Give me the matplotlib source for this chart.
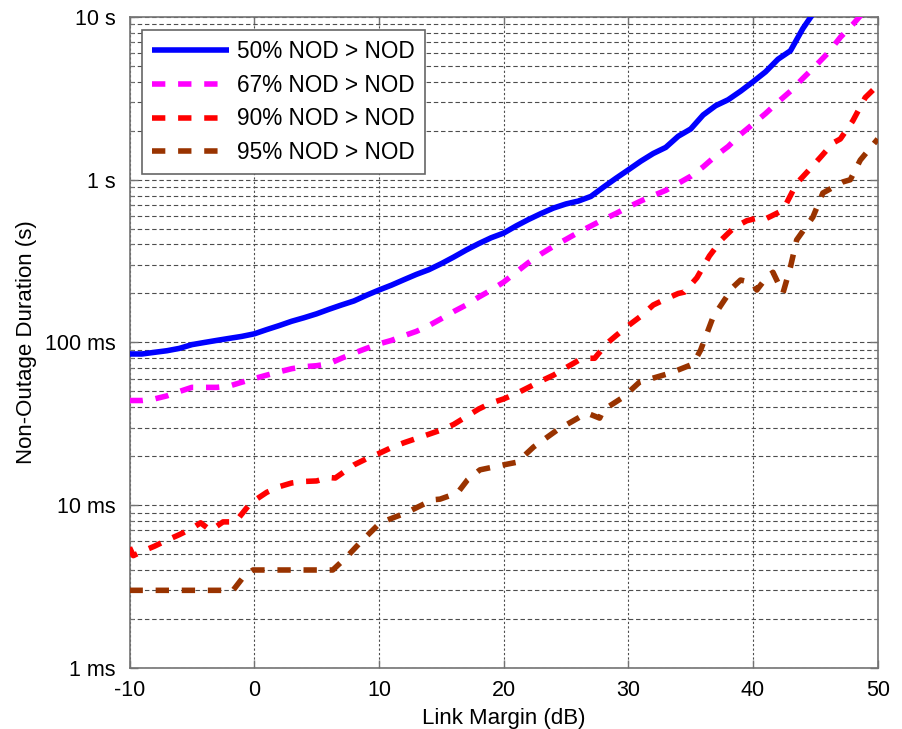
import matplotlib
matplotlib.use('Agg')
import matplotlib.pyplot as plt
import numpy as np
from matplotlib.ticker import FixedLocator, NullFormatter

plt.rcParams['font.family'] = ['Liberation Sans', 'DejaVu Sans']

# link margin (dB) and non-outage durations (s)
margin_50 = list(range(-10, 46))
nod_50 = [0.085, 0.085, 0.087, 0.089, 0.092, 0.097, 0.100, 0.103, 0.106, 0.109,
          0.113, 0.120, 0.127, 0.135, 0.142, 0.150, 0.160, 0.170, 0.180, 0.195,
          0.210, 0.225, 0.243, 0.262, 0.280, 0.305, 0.335, 0.370, 0.405, 0.440,
          0.470, 0.520, 0.570, 0.620, 0.670, 0.710, 0.740, 0.790, 0.900, 1.02,
          1.15, 1.30, 1.45, 1.58, 1.85, 2.05, 2.50, 2.85, 3.10, 3.50,
          4.00, 4.60, 5.50, 6.20, 8.50, 11.0]

margin_67 = list(range(-10, 50))
nod_67 = [0.044, 0.044, 0.045, 0.047, 0.050, 0.053, 0.053, 0.053, 0.054, 0.057,
          0.060, 0.063, 0.066, 0.069, 0.071, 0.072, 0.074, 0.080, 0.086, 0.092,
          0.098, 0.103, 0.110, 0.117, 0.127, 0.140, 0.155, 0.170, 0.190, 0.210,
          0.235, 0.270, 0.310, 0.350, 0.390, 0.430, 0.475, 0.520, 0.570, 0.620,
          0.680, 0.740, 0.800, 0.860, 0.950, 1.05, 1.20, 1.40, 1.60, 1.90,
          2.20, 2.55, 3.00, 3.50, 4.20, 5.00, 6.00, 7.50, 9.00, 11.0]

margin_90 = [-10, -9.7, -9, -8, -7, -6, -5, -4.3, -3.5, -2.5, -1.5, -0.3, 1, 2, 3,
             4, 5, 6, 6.5, 8, 9, 10, 11, 12, 13, 14, 15, 16, 17, 18, 19, 20, 21,
             22, 23, 24, 25, 26.3, 27.3, 28.3, 29, 30, 31, 32, 33, 34, 34.5, 35.5,
             36.5, 37.5, 38.5, 39.5, 40.3, 40.8, 41.5, 42.4, 43.5, 44.5, 45.5, 46.4,
             47, 48, 49, 50]
nod_90 = [0.0055, 0.0049, 0.0052, 0.0056, 0.0061, 0.0066, 0.0072, 0.0078, 0.0070,
          0.0079, 0.0079, 0.0103, 0.0120, 0.0130, 0.0137, 0.0140, 0.0141, 0.0148,
          0.0147, 0.0177, 0.0193, 0.0208, 0.0226, 0.0242, 0.0257, 0.0273, 0.0290,
          0.0314, 0.0350, 0.0390, 0.0425, 0.0450, 0.0485, 0.0530, 0.0580, 0.0630,
          0.0700, 0.0800, 0.0800, 0.0990, 0.110, 0.127, 0.145, 0.170, 0.185, 0.200,
          0.204, 0.250, 0.340, 0.430, 0.510, 0.560, 0.580, 0.565, 0.600, 0.650,
          0.950, 1.15, 1.40, 1.68, 1.78, 2.30, 3.20, 3.80]

margin_95 = [-10, -2.7, -1.7, -0.9, -0.1, 6.3, 7.4, 8.5, 10.1, 12.2, 14.3, 14.9,
             16.3, 17.1, 18.1, 20.0, 21.1, 22.4, 24.3, 26.1, 26.7, 27.7, 28.0, 29.6,
             30.9, 33.4, 35.2, 35.8, 36.8, 38.4, 39.0, 40.0, 40.3, 41.1, 41.6, 42.4,
             43.0, 43.5, 44.8, 45.6, 47.2, 47.8, 48.6, 50]
nod_95 = [0.0030, 0.0030, 0.0030, 0.0036, 0.0040, 0.0040, 0.0048, 0.0059, 0.0078,
          0.0090, 0.0108, 0.0109, 0.0119, 0.0143, 0.0165, 0.0177, 0.0184, 0.0228,
          0.0290, 0.0348, 0.0368, 0.0343, 0.0385, 0.0462, 0.0571, 0.0650, 0.0738,
          0.0899, 0.1436, 0.219, 0.242, 0.232, 0.210, 0.252, 0.270, 0.201, 0.291,
          0.427, 0.590, 0.829, 0.969, 1.00, 1.32, 1.78]

labels = ['50% NOD > NOD', '67% NOD > NOD', '90% NOD > NOD', '95% NOD > NOD']
colors = ['#0000ff', '#ff00ff', '#ff0000', '#993300']
yticks = [1e-3, 1e-2, 1e-1, 1, 10]
ytick_labels = ['1 ms', '10 ms', '100 ms', '1 s', '10 s']
xticks = [-10, 0, 10, 20, 30, 40, 50]

fig = plt.figure(figsize=(9.02, 7.29), dpi=100)
ax = fig.add_axes([0.1436, 0.0837, 0.8295, 0.893])

frame = '0.45'
lw = 4.0
dash = (2.4, 2.3)
ax.plot(margin_50, nod_50, color=colors[0], lw=lw, label=labels[0],
        solid_capstyle='butt', zorder=5)
ax.plot(margin_67, nod_67, color=colors[1], lw=lw, label=labels[1],
        dashes=dash, dash_capstyle='butt', zorder=5)
ax.plot(margin_90, nod_90, color=colors[2], lw=lw, label=labels[2],
        dashes=dash, dash_capstyle='butt', zorder=5)
ax.plot(margin_95, nod_95, color=colors[3], lw=lw, label=labels[3],
        dashes=dash, dash_capstyle='butt', zorder=5)

ax.set_yscale('log')
ax.set_xlim(-10, 50)
ax.set_ylim(1e-3, 10)
ax.set_xticks(xticks)
ax.set_xticklabels([str(t) for t in xticks])
ax.yaxis.set_major_locator(FixedLocator(yticks))
ax.set_yticklabels(ytick_labels)
minor = [m * 10.0 ** e for e in range(-3, 1) for m in range(2, 10)]
ax.yaxis.set_minor_locator(FixedLocator(minor))
ax.yaxis.set_minor_formatter(NullFormatter())

# grid: dashed horizontal (major+minor), dotted vertical
ax.grid(True, which='both', axis='y', color='0.3', lw=0.8, ls=(0, (4, 2.5)))
ax.grid(True, which='major', axis='x', color='0.3', lw=0.8, ls=(0, (2, 2)))

for s in ax.spines.values():
    s.set_color(frame)
    s.set_linewidth(1.2)
ax.tick_params(which='both', direction='in', top=True, right=True,
               color=frame, labelsize=15.5)
ax.tick_params(which='major', length=5.5, width=1)
ax.tick_params(which='minor', length=3, width=0.8)
ax.tick_params(axis='y', pad=10)
ax.tick_params(axis='x', pad=9)

ax.set_xlabel('Link Margin (dB)', fontsize=16, labelpad=5)
ax.set_ylabel('Non-Outage Duration (s)', fontsize=16, labelpad=6)

leg = ax.legend(loc='upper left', bbox_to_anchor=(0.0167, 0.98), borderaxespad=0,
                fontsize=16.3, handlelength=3.4, handletextpad=0.35,
                labelspacing=0.47, fancybox=False, framealpha=1,
                edgecolor='0.4', borderpad=0.45)
leg.get_frame().set_linewidth(1.2)

fig.savefig('out.png', dpi=100)
